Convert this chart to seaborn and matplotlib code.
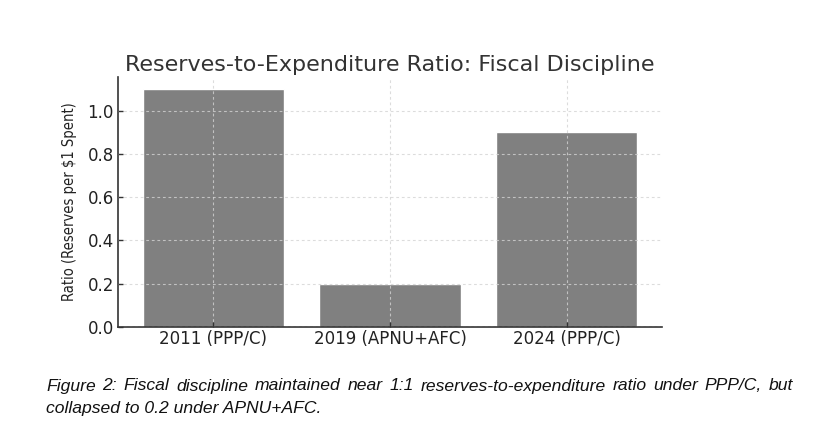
import matplotlib
matplotlib.use("Agg")
import matplotlib.pyplot as plt
import seaborn as sns
import pandas as pd

categories = ["2011 (PPP/C)", "2019 (APNU+AFC)", "2024 (PPP/C)"]
ratios = [1.1, 0.2, 0.9]
yticks = [0.0, 0.2, 0.4, 0.6, 0.8, 1.0]
title = "Reserves-to-Expenditure Ratio: Fiscal Discipline"
ylabel = "Ratio (Reserves per $1 Spent)"
caption_lines = [
    "Figure 2: Fiscal discipline maintained near 1:1 reserves-to-expenditure ratio under PPP/C, but",
    "collapsed to 0.2 under APNU+AFC.",
]

sns.set_style("ticks")
plt.rcParams['font.family'] = ['DejaVu Sans']

df = pd.DataFrame({"period": categories, "ratio": ratios})

fig = plt.figure(figsize=(8.38, 4.26), dpi=100)
ax = fig.add_axes([118/838, 1-327/426, (662-118)/838, (327-77)/426])
sns.barplot(data=df, x="period", y="ratio", color="#808080", saturation=1,
            width=0.8, ax=ax, zorder=1)
ax.set_xlim(-0.54, 2.54)
ax.set_ylim(0, 1.155)
ax.set_axisbelow(False)
ax.grid(True, linestyle=(0, (2.5, 2.5)), color="#d4d4d4", linewidth=0.8, alpha=0.8, zorder=3)
ax.set_yticks(yticks)
ax.set_yticklabels([f"{v:.1f}" for v in yticks])
ax.tick_params(direction="in", length=3.5, width=1, labelsize=12, colors="#333333",
               labelcolor="#222222", pad=3)
ax.tick_params(axis="x", pad=2)
ax.set_xlabel("")
ax.set_ylabel(ylabel, fontsize=10.5, fontstretch="condensed", color="#222222")
ax.yaxis.set_label_coords(-0.076, 0.5)
ax.set_title(title, fontsize=16, color="#333333", pad=4)
sns.despine(ax=ax)
for s in ["left", "bottom"]:
    ax.spines[s].set_color("#333333")
    ax.spines[s].set_linewidth(1.2)

# Caption: first line justified, second left-aligned
cap_font = dict(fontsize=12.6, style="italic", family=["Liberation Sans", "DejaVu Sans"], color="#111111")
x0, x1 = 46/838, 793/838
y_line1 = 1 - 386/426
y_line2 = 1 - 409/426
fig.canvas.draw()
renderer = fig.canvas.get_renderer()
words = caption_lines[0].split(" ")
tmp = [fig.text(0, 0, w, **cap_font) for w in words]
widths = [t.get_window_extent(renderer).width / fig.bbox.width for t in tmp]
for t in tmp:
    t.remove()
gap = (x1 - x0 - sum(widths)) / (len(words) - 1)
x = x0
for w, wd in zip(words, widths):
    fig.text(x, y_line1, w, va="center", ha="left", **cap_font)
    x += wd + gap
fig.text(x0, y_line2, caption_lines[1], va="center", ha="left", **cap_font)

fig.savefig("out.png", dpi=100)
